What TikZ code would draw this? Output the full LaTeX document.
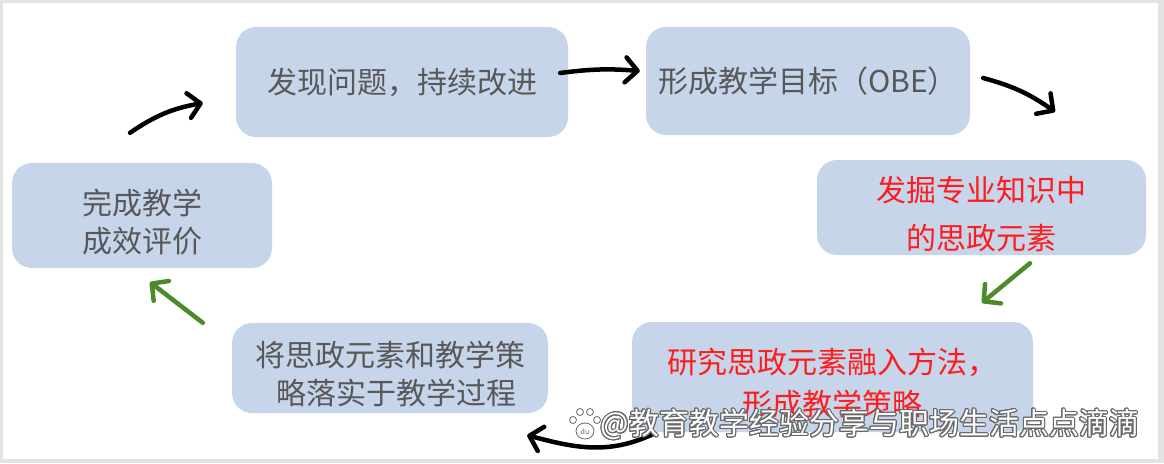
\documentclass[tikz,border=0pt]{standalone}
\usepackage{fontspec}
\setmainfont{Noto Sans CJK SC}
\usepackage[copies]{contour}
\usetikzlibrary{arrows.meta}
\definecolor{boxblue}{HTML}{C6D5EA}
\definecolor{txtgray}{HTML}{585858}
\definecolor{hotred}{HTML}{FF1C1C}
\definecolor{leafgreen}{HTML}{4C8A2C}
\definecolor{framegray}{HTML}{E3E3E3}
\definecolor{markgray}{HTML}{6A6A6A}
\contourlength{1.1pt}
\contournumber{24}
\newcommand\boxstrut{\rule{0pt}{38pt}}

\begin{document}
\begin{tikzpicture}[x=1pt, y=-1pt,
  stage/.style={rectangle, rounded corners=20pt, fill=boxblue, text=txtgray, align=center, inner sep=0pt, font=\fontsize{30pt}{38pt}\selectfont},
  hot/.style={stage, text=hotred},
  flow/.style={line width=4.5pt, line cap=round, line join=round, -{Straight Barb[length=12pt,width=25pt,round]}}]
  \useasboundingbox (0,0) rectangle (1164,463);
  \fill[framegray] (0,0) rectangle (1164,463);
  \fill[white] (3,3) rectangle (1158,459);

  \node[stage, minimum width=332pt, minimum height=110pt] (identify) at (402,82) {发现问题，持续改进};
  \node[stage, minimum width=324pt, minimum height=108pt] (goal) at (808,81) {形成教学目标（OBE）};
  \node[hot, minimum width=329pt, minimum height=95pt] (mine) at (981.5,207.5) {\boxstrut 发掘专业知识中\\[10pt]的思政元素};
  \node[hot, minimum width=401pt, minimum height=110pt] (method) at (832.5,377) {\boxstrut 研究思政元素融入方法，\\[4pt]形成教学策略};
  \node[stage, minimum width=316pt, minimum height=90pt] (implement) at (390,368) {\boxstrut 将思政元素和教学策\\\hspace*{12pt}略落实于教学过程};
  \node[stage, minimum width=260pt, minimum height=105pt] (evaluate) at (142,215.5) {\boxstrut 完成教学\\成效评价};

  \draw[flow] ([xshift=-12pt,yshift=30pt]evaluate.north) to[bend left=12] ([xshift=-33pt,yshift=-21pt]identify.west);
  \draw[flow] ([xshift=-8pt,yshift=9pt]identify.east) to[bend left=6] ([xshift=-6pt,yshift=10pt]goal.west);
  \draw[flow] ([xshift=13pt,yshift=3pt]goal.east) to[bend left=10] ([xshift=73.5pt,yshift=48pt]mine.north);
  \draw[flow, leafgreen] ([xshift=48.5pt,yshift=-8pt]mine.south) -- ([xshift=149.5pt,yshift=19pt]method.north);
  \draw[flow] ([xshift=21pt,yshift=-2pt]method.south west) to[out=205,in=-15] ([xshift=-21pt,yshift=-22pt]implement.south east);
  \draw[flow, leafgreen] ([xshift=-29pt]implement.north west) -- ([xshift=8pt,yshift=-14pt]evaluate.south);

  \begin{scope}[draw=markgray, fill=white, line width=0.8pt]
    \filldraw (585,431) ellipse [x radius=9, y radius=8];
    \filldraw (573,420) circle [radius=3.5] (580,412) circle [radius=3.5]
      (590,412) circle [radius=3.5] (597,420) circle [radius=3.5];
  \end{scope}
  \node[text=markgray, font=\fontsize{7pt}{7pt}\selectfont, inner sep=0pt] (pawtag) at (585,432) {du};
  \node[text=white, inner sep=0pt, font=\fontsize{30pt}{30pt}\selectfont] (mark) at (870,425) {\contour{markgray}{@教育教学经验分享与职场生活点点滴滴}};
\end{tikzpicture}
\end{document}
